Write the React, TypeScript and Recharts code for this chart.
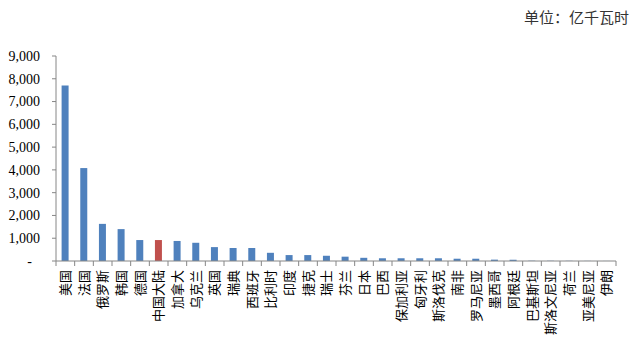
import React from 'react';
import { BarChart, Bar, XAxis, YAxis, Cell } from 'recharts';

const countries = [
  '美国', '法国', '俄罗斯', '韩国', '德国', '中国大陆', '加拿大', '乌克兰', '英国', '瑞典',
  '西班牙', '比利时', '印度', '捷克', '瑞士', '芬兰', '日本', '巴西', '保加利亚', '匈牙利',
  '斯洛伐克', '南非', '罗马尼亚', '墨西哥', '阿根廷', '巴基斯坦', '斯洛文尼亚', '荷兰', '亚美尼亚', '伊朗',
];

const generation = [
  7700, 4080, 1630, 1400, 920, 920, 880, 800, 610, 570,
  570, 360, 260, 260, 230, 190, 140, 120, 120, 120,
  120, 100, 100, 60, 60, 12, 10, 8, 5, 3,
];

const yTicks = [0, 1000, 2000, 3000, 4000, 5000, 6000, 7000, 8000, 9000];

const highlight = '中国大陆';

const data = countries.map((name, i) => ({ name, value: generation[i] }));

const BLUE = '#4F81BD';
const RED = '#C0504D';
const AXIS = '#868686';
const CJK = '"Noto Sans CJK SC", "Noto Sans", sans-serif';

// plot spans 560px over 30 categories
const BAND = 560 / countries.length;

const XTick = (props: any) => {
  const { x, y, payload, index } = props;
  const left = x - BAND / 2;
  const isLast = index === countries.length - 1;
  return (
    <g>
      <line x1={left} x2={left} y1={y} y2={y + 5} stroke={AXIS} />
      {isLast && <line x1={x + BAND / 2} x2={x + BAND / 2} y1={y} y2={y + 5} stroke={AXIS} />}
      <text
        x={x}
        y={y + 9}
        transform={`rotate(-90, ${x}, ${y + 9})`}
        textAnchor="end"
        dy="0.35em"
        fontSize={13}
        fontFamily={CJK}
        fill="#000"
      >
        {payload.value}
      </text>
    </g>
  );
};

const YTick = (props: any) => {
  const { x, y, payload } = props;
  const v = payload.value as number;
  return (
    <text
      x={v === 0 ? x - 8 : x}
      y={y}
      dy="0.35em"
      textAnchor="end"
      fontSize={14}
      fontFamily='"Liberation Serif", serif'
      fill="#000"
    >
      {v === 0 ? '-' : v.toLocaleString('en-US')}
    </text>
  );
};

export default function App() {
  return (
    <div style={{ position: 'absolute', left: 0, top: 0, width: 635, height: 356, background: '#fff' }}>
      <div
        style={{
          position: 'absolute',
          right: 6,
          top: 6,
          fontSize: 15,
          fontFamily: CJK,
          color: '#333',
        }}
      >
        单位：亿千瓦时
      </div>
      <BarChart
        width={635}
        height={356}
        data={data}
        margin={{ top: 56, right: 19, bottom: 0, left: 0 }}
        barCategoryGap="30%"
      >
        <XAxis
          dataKey="name"
          interval={0}
          height={95}
          tickLine={false}
          tickSize={0}
          tickMargin={0}
          stroke={AXIS}
          tick={<XTick />}
        />
        <YAxis
          width={56}
          domain={[0, 9000]}
          ticks={yTicks}
          interval={0}
          tickSize={4}
          tickMargin={12}
          stroke={AXIS}
          tick={<YTick />}
        />
        <Bar dataKey="value" isAnimationActive={false}>
          {data.map((d) => (
            <Cell key={d.name} fill={d.name === highlight ? RED : BLUE} />
          ))}
        </Bar>
      </BarChart>
    </div>
  );
}
